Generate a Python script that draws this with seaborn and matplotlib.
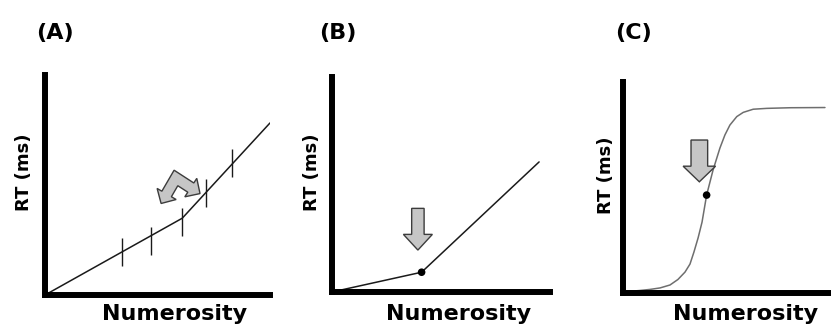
import numpy as np
import matplotlib.pyplot as plt
import seaborn as sns
from matplotlib.patches import FancyArrow, Polygon

# Panel A: piecewise line with marker ticks
a_x = [0, 61.0, 100]
a_y = [0, 34.9, 78.2]
a_tick_x = [34.4, 47.1, 61.0, 71.4, 83.2]
a_tick_y = [19.4, 24.5, 33.2, 46.5, 59.9]
a_arrow = [(51.6, 41.6), (58.2, 53.2), (68.9, 46.1)]  # left tip, bend, right tip

# Panel B: bilinear with break point
b_x = [0, 41.1, 95.0]
b_y = [0, 9.2, 60.5]
b_dot = (41.1, 9.2)
b_arrow = (39.4, 38.9, 19.5)  # x, top, tip

# Panel C: sigmoid
c_x = [0, 2.4, 8.2, 13.0, 17.8, 22.6, 26.4, 29.8, 32.2, 34.1, 36.1, 38.0,
       40.2, 43.3, 46.6, 49.0, 51.4, 54.7, 57.8, 62.6, 69.1, 80.3, 97.1]
c_y = [0.1, 0.7, 1.2, 1.7, 2.4, 3.8, 6.4, 9.9, 13.7, 19.4, 26.1, 33.6,
       46.4, 58.3, 68.7, 74.9, 79.6, 83.6, 85.6, 87.1, 87.5, 87.8, 87.9]
c_dot = (40.2, 46.4)
c_arrow = (36.7, 72.5, 52.7)

labels = ['(A)', '(B)', '(C)']

W, H = 831, 326
sns.set_style('white')
plt.rcParams['font.family'] = ['DejaVu Sans']
plt.rcParams['text.color'] = 'black'
fig = plt.figure(figsize=(W / 100, H / 100), dpi=100)


def add_ax(left, top, right, bottom):
    ax = fig.add_axes([left / W, 1 - bottom / H, (right - left) / W, (bottom - top) / H])
    ax.set_xlim(0, 100)
    ax.set_ylim(0, 100)
    ax.set_xticks([])
    ax.set_yticks([])
    for s in ['top', 'right']:
        ax.spines[s].set_visible(False)
    for s in ['left', 'bottom']:
        ax.spines[s].set_linewidth(4.3)
        ax.spines[s].set_color('black')
    return ax


def bent_arrow(ax, pts, w=5.5, hw=11, hl=11):
    # double headed bent arrow, geometry worked out in pixels
    L, P, R = ax.transData.transform(np.array(pts))
    d1 = (L - P) / np.linalg.norm(L - P)
    d2 = (R - P) / np.linalg.norm(R - P)
    m1 = np.array([d1[1], -d1[0]])
    m2 = np.array([-d2[1], d2[0]])
    b1 = L - d1 * hl
    b2 = R - d2 * hl
    bis = (m1 + m2) / np.linalg.norm(m1 + m2)
    k = w / np.dot(bis, m1)
    poly = [b1 + m1 * w, P + bis * k, b2 + m2 * w, b2 + m2 * hw, R,
            b2 - m2 * hw, b2 - m2 * w, P - bis * k, b1 - m1 * w,
            b1 - m1 * hw, L, b1 + m1 * hw]
    poly = ax.transData.inverted().transform(np.array(poly))
    ax.add_patch(Polygon(poly, closed=True, facecolor='#c6c6c6',
                         edgecolor='#3c3c3c', linewidth=1.0, zorder=4))


def down_arrow(ax, spec, width, head_width, head_length):
    x, top, tip = spec
    ax.add_patch(FancyArrow(x, top, 0, tip - top, width=width,
                            head_width=head_width, head_length=head_length,
                            length_includes_head=True, facecolor='#c6c6c6',
                            edgecolor='#3c3c3c', linewidth=1.0, zorder=4))


axA = add_ax(45, 75, 270, 295)
axB = add_ax(332, 77, 550, 292)
axC = add_ax(623, 82, 831, 293)

# (A)
sns.lineplot(x=a_x, y=a_y, ax=axA, color='#1a1a1a', linewidth=1.1)
axA.vlines(a_tick_x, np.array(a_tick_y) - 6.4, np.array(a_tick_y) + 6.4,
           color='#1a1a1a', linewidth=1.0)
bent_arrow(axA, a_arrow)

# (B)
sns.lineplot(x=b_x, y=b_y, ax=axB, color='#1a1a1a', linewidth=1.1)
sns.scatterplot(x=[b_dot[0]], y=[b_dot[1]], ax=axB, color='black', s=30,
                edgecolor='none', zorder=5)
down_arrow(axB, b_arrow, 5.7, 13.3, 7.3)

# (C)
sns.lineplot(x=c_x, y=c_y, ax=axC, color='#6e6e6e', linewidth=1.1)
sns.scatterplot(x=[c_dot[0]], y=[c_dot[1]], ax=axC, color='black', s=30,
                edgecolor='none', zorder=5)
down_arrow(axC, c_arrow, 8.0, 15.6, 7.4)

# texts
for lab, lx in zip(labels, [36, 319, 615]):
    fig.text(lx / W, 1 - 33 / H, lab, fontsize=16, fontweight='bold',
             ha='left', va='center', color='black')
for cx in [175, 459, 746]:
    fig.text(cx / W, 1 - 314 / H, 'Numerosity', fontsize=16,
             fontweight='bold', ha='center', va='center', color='black')
for rx, ry in [(24, 172), (312, 172), (606, 175)]:
    fig.text(rx / W, 1 - ry / H, 'RT (ms)', fontsize=13, fontweight='bold',
             ha='center', va='center', rotation=90, color='black')

fig.savefig('out.png', dpi=100)
